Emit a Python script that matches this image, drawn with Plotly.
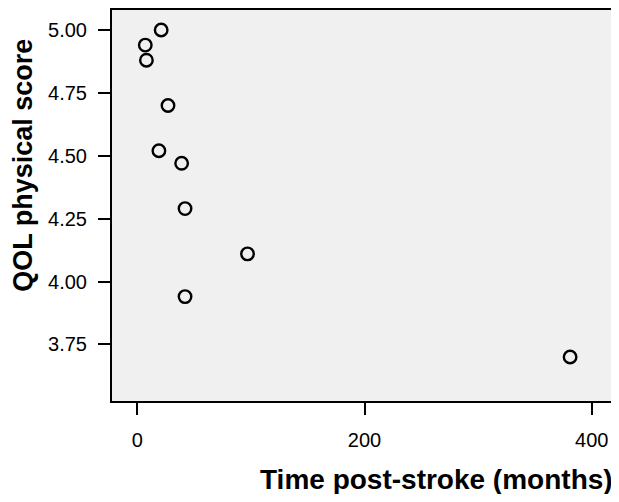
import plotly.graph_objects as go

# Data
time_months = [21, 7, 8, 27, 19, 39, 42, 97, 42, 381]
qol_physical = [5.00, 4.94, 4.88, 4.70, 4.52, 4.47, 4.29, 4.11, 3.94, 3.70]

x_ticks = [0, 200, 400]
y_ticks = [3.75, 4.00, 4.25, 4.50, 4.75, 5.00]
y_tick_labels = ["3.75", "4.00", "4.25", "4.50", "4.75", "5.00"]

FONT = "Liberation Sans, Arial, sans-serif"

fig = go.Figure()
fig.add_trace(go.Scatter(
    x=time_months, y=qol_physical, mode="markers",
    marker=dict(symbol="circle", size=12.5, color="rgba(0,0,0,0)",
                line=dict(color="black", width=2.4)),
    showlegend=False, hoverinfo="x+y",
))

axis_common = dict(
    showline=True, linecolor="black", linewidth=2, mirror=True,
    ticks="outside", ticklen=12, tickwidth=2, tickcolor="black",
    showgrid=False, zeroline=False,
    tickfont=dict(family=FONT, size=20, color="black"),
)

fig.update_xaxes(range=[-22.3, 421.4], tickvals=x_ticks,
                 ticktext=[str(v) for v in x_ticks], ticklabelstandoff=8, **axis_common)
fig.update_yaxes(range=[3.525, 5.0795], tickvals=y_ticks,
                 ticktext=y_tick_labels, ticklabelstandoff=7, **axis_common)

# page has an 8px body margin: figure is placed at (8, 8)
fig.add_annotation(text="<b>Time post-stroke (months)</b>", xref="paper", yref="paper",
                   x=0.998, y=-0.201, xanchor="right", yanchor="middle", showarrow=False,
                   font=dict(family=FONT, size=28, color="black"))
fig.add_annotation(text="<b>QOL physical score</b>", xref="paper", yref="paper",
                   x=-0.1766, y=0.604, xanchor="center", yanchor="middle", textangle=-90,
                   showarrow=False, font=dict(family=FONT, size=27, color="black"))

fig.update_layout(
    width=611, height=486,
    margin=dict(l=104, r=3, t=2, b=92.7, autoexpand=False),
    plot_bgcolor="#f0f0f0", paper_bgcolor="white",
    font=dict(family=FONT, color="black"),
)

fig.write_html("out.html")
